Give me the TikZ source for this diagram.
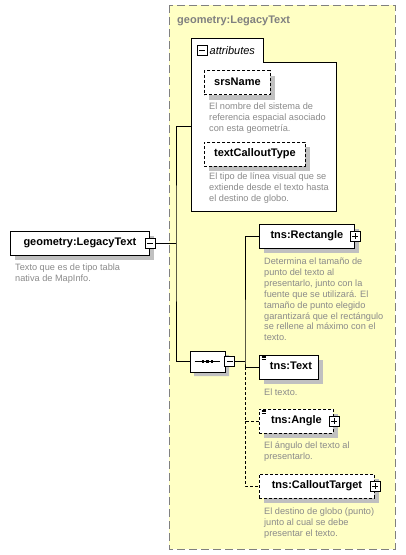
\documentclass[tikz,border=0pt]{standalone}
\usepackage{fontspec}
\setmainfont{Liberation Sans}
\usetikzlibrary{positioning, shapes, shapes.misc, shadows}
\definecolor{typebg}{HTML}{FFFFC4}
\definecolor{descgray}{HTML}{8A8A8A}
\definecolor{shadowgray}{HTML}{C0C0C0}
\tikzset{
  elem/.style={draw, fill=white, line width=.9pt, minimum height=24pt, inner sep=0pt,
    text height=8pt, text depth=2.5pt, font=\fontsize{11}{13}\selectfont\bfseries,
    drop shadow={shadow xshift=5pt, shadow yshift=-5pt, fill=shadowgray, opacity=1}},
  optelem/.style={elem, dash pattern=on 3pt off 2pt},
  desc/.style={anchor=north west, inner sep=0pt, align=left, text=descgray,
    font=\fontsize{9.2}{10.9}\selectfont},
  conn/.style={line width=.9pt},
  optconn/.style={conn, dash pattern=on 3pt off 2pt},
  minus/.style={draw, fill=white, line width=.7pt, minimum size=10pt, inner sep=0pt,
    path picture={\draw[line width=.7pt] ([xshift=2pt]path picture bounding box.west) -- ([xshift=-2pt]path picture bounding box.east);}},
  plus/.style={draw, fill=white, line width=.7pt, minimum size=10pt, inner sep=0pt,
    path picture={\draw[line width=.7pt] ([xshift=2pt]path picture bounding box.west) -- ([xshift=-2pt]path picture bounding box.east)
      ([yshift=-2pt]path picture bounding box.north) -- ([yshift=2pt]path picture bounding box.south);}},
  seqbox/.style={chamfered rectangle, chamfered rectangle xsep=6pt, draw, fill=white, line width=.9pt,
    minimum width=35pt, minimum height=21pt, inner sep=0pt,
    drop shadow={shadow xshift=4pt, shadow yshift=-4pt, fill=shadowgray, opacity=1}},
  txticon/.pic={\foreach \k in {0,1.6,3.2} \draw[line width=.6pt] (0,\k) -- (4.5,\k);}
}

\begin{document}
\begin{tikzpicture}[x=1pt,y=-1pt]
\useasboundingbox (0,0) rectangle (406,555);
\draw[draw=gray, fill=typebg, line width=.9pt, dash pattern=on 8pt off 4pt] (169,5) rectangle (395,549);
\node[anchor=base west, inner sep=0pt, text=gray, font=\fontsize{11}{13}\selectfont\bfseries] (ttl) at (177,23) {geometry:LegacyText};

\draw[fill=white, line width=.9pt] (191,38) -- (263,38) -- (263,62) -- (336,62) -- (336,211) -- (191,211) -- cycle;
\node[minus] (attrexp) at (202,50) {};
\node[anchor=west, inner sep=0pt, font=\fontsize{11}{13}\selectfont\itshape] (attrlbl) at (209.5,51) {attributes};
\coordinate (attrin) at (191,126);

\node[optelem, anchor=west, minimum width=66pt] (srs) at (204,82.5) {srsName};
\node[desc] (srsd) at (209,103) {El nombre del sistema de\\referencia espacial asociado\\con esta geometría.};
\node[optelem, anchor=west, minimum width=101pt] (tct) at (204,154) {textCalloutType};
\node[desc] (tctd) at (209,172.5) {El tipo de línea visual que se\\extiende desde el texto hasta\\el destino de globo.};

\node[elem, anchor=west, minimum width=139pt] (leg) at (10,243) {geometry:LegacyText};
\node[minus] (legexp) at (leg.east) {};
\node[desc] (legd) at (15,263.7) {Texto que es de tipo tabla\\nativa de MapInfo.};

\node[seqbox] (seq) at (207.5,361.5) {};
\draw[line width=.9pt] ([xshift=5pt]seq.west) -- ([xshift=-5pt]seq.east);
\foreach \dx in {-4.5,0,4.5} \fill ([xshift=\dx pt]seq.center) +(-1.3,-1.3) rectangle +(1.3,1.3);
\node[minus, right=-1pt of seq] (seqexp) {};

\node[elem, anchor=west, minimum width=95pt] (rect) at (259,236) {tns:Rectangle};
\node[plus] (rectexp) at (rect.east) {};
\node[desc] (rectd) at (264,257.7) {Determina el tamaño de\\punto del texto al\\presentarlo, junto con la\\fuente que se utilizará. El\\tamaño de punto elegido\\garantizará que el rectángulo\\se rellene al máximo con el\\texto.};

\node[elem, anchor=west, minimum width=59pt] (txt) at (259,367) {\hspace{4pt}tns:Text};
\pic at ([shift={(2.5,1.5)}]txt.north west) {txticon};
\node[desc] (txtd) at (264,388.7) {El texto.};

\node[optelem, anchor=west, minimum width=74pt] (ang) at (259,421) {tns:Angle\hspace{6pt}};
\pic at ([shift={(2.5,1.5)}]ang.north west) {txticon};
\node[plus] (angexp) at (ang.east) {};
\node[desc] (angd) at (264,441.7) {El ángulo del texto al\\presentarlo.};

\node[optelem, anchor=west, minimum width=115pt] (call) at (259,486) {tns:CalloutTarget\hspace{6pt}};
\node[plus] (callexp) at (call.east) {};
\node[desc] (calld) at (264,507.7) {El destino de globo (punto)\\junto al cual se debe\\presentar el texto.};

\coordinate (trunk) at (176,243);
\coordinate (fork) at (245,361.5);
\draw[conn] (legexp.east) -- (trunk);
\draw[conn] (attrin) -| (trunk) |- (seq.west);
\draw[conn] (seqexp.east) -- (fork);
\draw[conn] (rect.west) -| (fork) |- (txt.west);
\draw[optconn] (txt.west -| fork) |- (ang.west);
\draw[optconn] (ang.west -| fork) |- (call.west);
\end{tikzpicture}
\end{document}
